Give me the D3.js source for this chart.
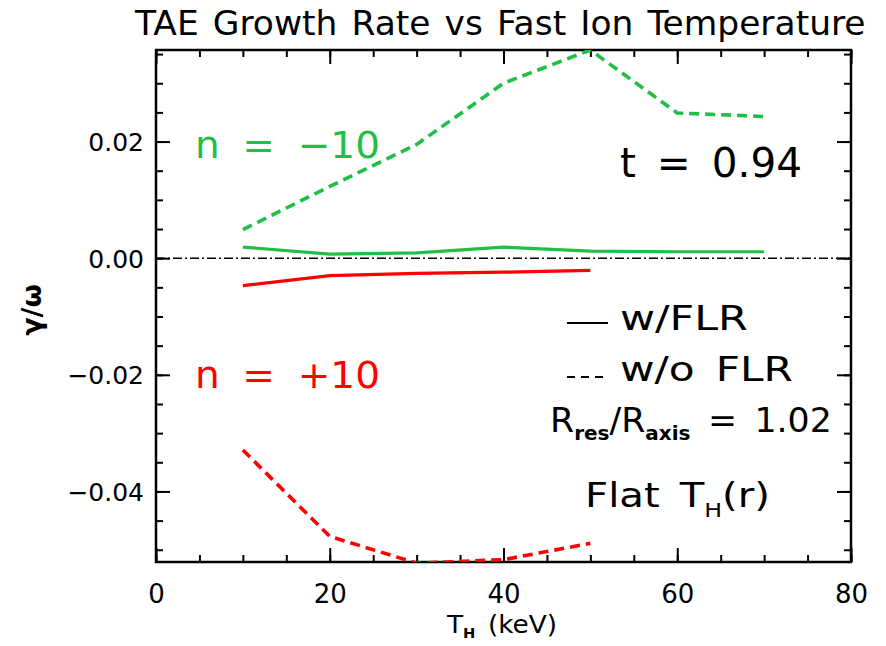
<!DOCTYPE html>
<html><head><meta charset="utf-8">
<script src="https://cdn.jsdelivr.net/npm/d3@7"></script>
<style>body{margin:0;background:#fff}svg{display:block}text{font-family:"DejaVu Sans",sans-serif}</style>
</head><body>
<script>
const temps = [10, 20, 30, 40, 50, 60, 70];
const greenNoFLR = [0.0049, 0.0123, 0.0195, 0.0300, 0.0357, 0.0249, 0.0243];
const greenFLR   = [0.0019, 0.0007, 0.0009, 0.0019, 0.0012, 0.0011, 0.0011];
const redTemps = [10, 20, 30, 40, 50];
const redFLR   = [-0.0047, -0.0030, -0.0026, -0.0024, -0.0021];
const redNoFLR = [-0.0329, -0.0477, -0.0523, -0.0517, -0.0489];
const xTicks = [0, 20, 40, 60, 80];
const yTicks = [-0.04, -0.02, 0.00, 0.02];
const xTickLabels = ["0", "20", "40", "60", "80"];
const yTickLabels = ["\u22120.04", "\u22120.02", "0.00", "0.02"];

const W = 886, H = 646;
const L = 156, R = 851, T = 50, B = 562;
const green = "#1fbf45", red = "#ff0000";

const svg = d3.select("body").append("svg").attr("width", W).attr("height", H);
const x = d3.scaleLinear().domain([0, 80]).range([L, R]);
const y = d3.scaleLinear().domain([-0.0521, 0.0357]).range([B, T]);

svg.append("defs").append("clipPath").attr("id", "clip")
  .append("rect").attr("x", L).attr("y", T).attr("width", R - L).attr("height", B - T);

const minorX = d3.range(0, 81, 5), minorY = d3.range(-0.05, 0.0355, 0.005);
function axisG(axis, tx, ty) {
  const g = svg.append("g").attr("transform", `translate(${tx},${ty})`).call(axis);
  g.select(".domain").remove();
  g.selectAll("line").attr("stroke", "#000").attr("stroke-width", 2);
  return g;
}
axisG(d3.axisBottom(x).tickValues(minorX).tickSize(-7).tickFormat(""), 0, B);
const bx = axisG(d3.axisBottom(x).tickValues(xTicks).tickSize(-14).tickFormat((d,i)=>xTickLabels[i]), 0, B);
bx.selectAll("text").attr("font-size", 26).attr("fill", "#000").attr("y", 41).attr("dy", 0);
axisG(d3.axisTop(x).tickValues(minorX).tickSize(-7).tickFormat(""), 0, T);
axisG(d3.axisTop(x).tickValues(xTicks).tickSize(-14).tickFormat(""), 0, T);
axisG(d3.axisLeft(y).tickValues(minorY).tickSize(-7).tickFormat(""), L, 0);
const ly = axisG(d3.axisLeft(y).tickValues(yTicks).tickSize(-14).tickFormat((d,i)=>yTickLabels[i]), L, 0);
ly.selectAll("text").attr("font-size", 25).attr("fill", "#000").attr("x", -12).attr("dy", "0.36em");
axisG(d3.axisRight(y).tickValues(minorY).tickSize(-7).tickFormat(""), R, 0);
axisG(d3.axisRight(y).tickValues(yTicks).tickSize(-14).tickFormat(""), R, 0);

svg.append("rect").attr("x", L).attr("y", T).attr("width", R - L).attr("height", B - T)
  .attr("fill", "none").attr("stroke", "#000").attr("stroke-width", 2.5);

svg.append("line").attr("x1", x(0)).attr("x2", x(80)).attr("y1", y(0)).attr("y2", y(0))
  .attr("stroke", "#000").attr("stroke-width", 1.6).attr("stroke-dasharray", "9,3,2,3");

const line = d3.line().x(d => x(d[0])).y(d => y(d[1]));
const plot = svg.append("g").attr("clip-path", "url(#clip)");
function series(xs, ys, color, dashed) {
  plot.append("path").datum(xs.map((v, i) => [v, ys[i]])).attr("d", line)
    .attr("fill", "none").attr("stroke", color).attr("stroke-width", dashed ? 3.6 : 3.2)
    .attr("stroke-dasharray", dashed ? "10,6" : null);
}
series(temps, greenNoFLR, green, true);
series(temps, greenFLR, green, false);
series(redTemps, redFLR, red, false);
series(redTemps, redNoFLR, red, true);

// text stretched horizontally to match the wide plotting font
function fit(sel, xp, yp, width) {
  sel.attr("x", 0).attr("y", 0);
  const w = sel.node().getComputedTextLength();
  sel.attr("transform", `translate(${xp},${yp}) scale(${width / w},1)`);
  return sel;
}
function label(xp, yp, size, len, color, txt, ws) {
  const t = svg.append("text").attr("font-size", size).attr("fill", color)
    .attr("word-spacing", ws || 0).style("white-space", "pre").text(txt);
  return fit(t, xp, yp, len);
}

label(135, 35, 33, 731, "#000", "TAE Growth Rate vs Fast Ion Temperature", 3);

const xl = svg.append("text").attr("font-size", 25).attr("word-spacing", 4);
xl.append("tspan").text("T");
xl.append("tspan").attr("font-size", 14).attr("font-weight", "bold").attr("dy", 5).text("H");
xl.append("tspan").attr("dy", -5).text(" (keV)");
fit(xl, 447, 633, 110);
svg.append("text").attr("transform", "translate(41,310) rotate(-90)").attr("text-anchor", "middle")
  .attr("font-size", 27).attr("font-weight", "bold").text("\u03b3/\u03c9");

label(195, 158, 38, 185, green, "n = \u221210", 10);
label(195, 388, 38, 185, red, "n = +10", 10);
label(620, 177, 40, 182, "#000", "t = 0.94", 8);

svg.append("line").attr("x1", 567).attr("x2", 608).attr("y1", 323).attr("y2", 323).attr("stroke", "#000").attr("stroke-width", 2);
label(620, 330, 33, 128, "#000", "w/FLR");
svg.append("line").attr("x1", 567).attr("x2", 606).attr("y1", 377).attr("y2", 377).attr("stroke", "#000").attr("stroke-width", 2).attr("stroke-dasharray", "8,6");
label(620, 381, 33, 173, "#000", "w/o FLR", 6);

const rt = svg.append("text").attr("font-size", 33).attr("word-spacing", 6);
rt.append("tspan").text("R");
rt.append("tspan").attr("font-size", 19).attr("font-weight", "bold").attr("dy", 8).text("res");
rt.append("tspan").attr("dy", -8).text("/R");
rt.append("tspan").attr("font-size", 19).attr("font-weight", "bold").attr("dy", 8).text("axis");
rt.append("tspan").attr("dy", -8).text(" = 1.02");
fit(rt, 550, 432, 282);

const ft = svg.append("text").attr("font-size", 34).attr("word-spacing", 6);
ft.append("tspan").text("Flat T");
ft.append("tspan").attr("font-size", 20).attr("dy", 10).text("H");
ft.append("tspan").attr("dy", -10).text("(r)");
fit(ft, 585, 507, 185);
</script>
</body></html>
